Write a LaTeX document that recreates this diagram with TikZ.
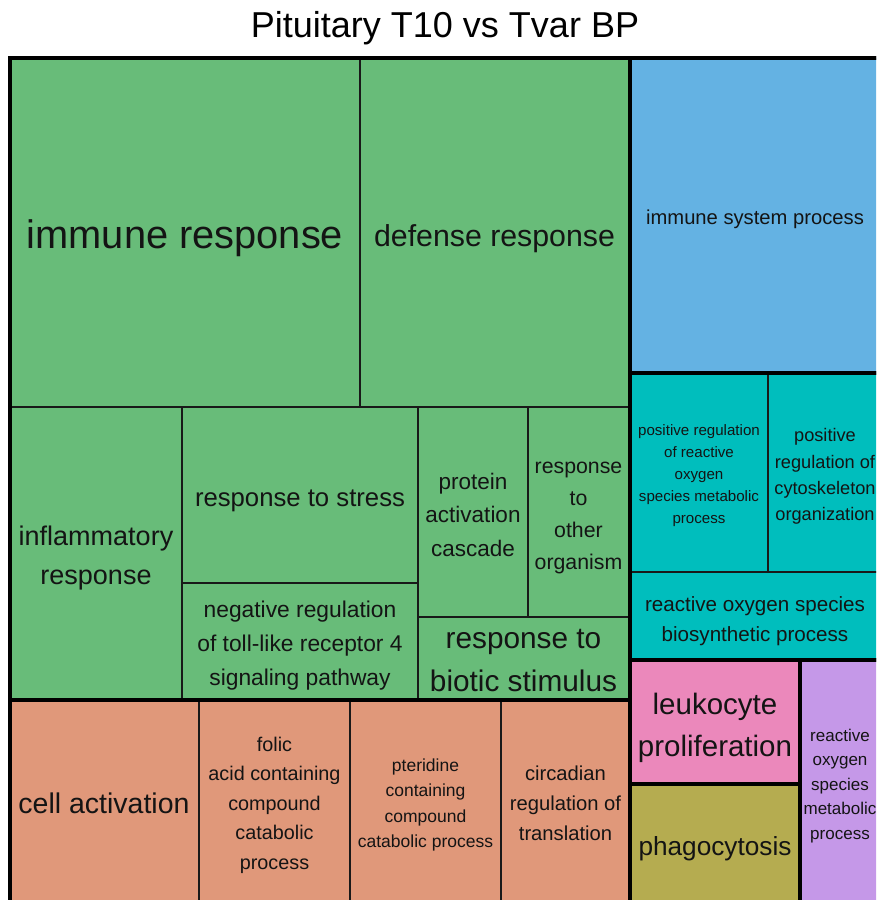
\documentclass[tikz,border=0pt]{standalone}
\usepackage{fontspec}
\setmainfont{Liberation Sans}
\definecolor{cgreen}{RGB}{104,188,121}
\definecolor{cblue}{RGB}{100,178,227}
\definecolor{cteal}{RGB}{0,190,189}
\definecolor{csalmon}{RGB}{224,152,122}
\definecolor{cpink}{RGB}{235,136,187}
\definecolor{colive}{RGB}{181,172,80}
\definecolor{cpurple}{RGB}{197,152,232}
\definecolor{txt}{RGB}{20,20,20}
\newcommand{\fsz}[2]{\fontsize{#1}{#2}\selectfont}
\begin{document}
\begin{tikzpicture}[x=1pt,y=-1pt,
  lbl/.style={align=center, inner sep=0pt, text=txt},
  thinline/.style={line width=1.8pt, draw=black!90},
  grpline/.style={line width=4.5pt, draw=black}]
\useasboundingbox (0,0) rectangle (876,900);
\clip (0,0) rectangle (876,900);
\fill[white] (0,0) rectangle (876,900);
% group fills
\fill[cgreen] (10,58) rectangle (630,700);
\fill[cblue] (630,58) rectangle (882,373);
\fill[cteal] (630,373) rectangle (882,660);
\fill[csalmon] (10,700) rectangle (630,908);
\fill[cpink] (630,660) rectangle (800,784);
\fill[colive] (630,784) rectangle (800,908);
\fill[cpurple] (800,660) rectangle (882,908);
% thin lines
\draw[thinline] (10,407) -- (630,407);
\draw[thinline] (360,58) -- (360,407);
\draw[thinline] (182,407) -- (182,700);
\draw[thinline] (418,407) -- (418,700);
\draw[thinline] (182,583) -- (418,583);
\draw[thinline] (528,407) -- (528,617);
\draw[thinline] (418,617) -- (630,617);
\draw[thinline] (768,373) -- (768,572);
\draw[thinline] (630,572) -- (882,572);
\draw[thinline] (199,700) -- (199,908);
\draw[thinline] (350,700) -- (350,908);
\draw[thinline] (501,700) -- (501,908);
% group borders
\draw[grpline] (10,58) rectangle (630,700);
\draw[grpline] (630,58) rectangle (882,373);
\draw[grpline] (630,373) rectangle (882,660);
\draw[grpline] (10,700) rectangle (630,908);
\draw[grpline] (630,660) rectangle (800,784);
\draw[grpline] (630,784) rectangle (800,908);
\draw[grpline] (800,660) rectangle (882,908);
\draw[grpline] (10,58) rectangle (882,908);
% labels
\node[lbl, text=black, font={\fsz{36}{43}}] (title) at (445,28) {Pituitary T10 vs Tvar BP};
\node[lbl, font={\fsz{39.8}{48}}] (n1) at (185,238) {immune response};
\node[lbl, font={\fsz{30.3}{40}}] (n2) at (494.5,239) {defense response};
\node[lbl, font={\fsz{20.2}{28}}] (n3) at (755,219) {immune system process};
\node[lbl, font={\fsz{27}{39}}] (n4) at (96,558) {inflammatory\\response};
\node[lbl, font={\fsz{25.7}{36}}] (n5) at (300,501) {response to stress};
\node[lbl, font={\fsz{22.8}{34}}] (n6) at (300,646) {negative regulation\\of toll-like receptor 4\\signaling pathway};
\node[lbl, font={\fsz{22.5}{33.5}}] (n7) at (473,514.5) {protein\\activation\\cascade};
\node[lbl, font={\fsz{21.3}{32}}] (n8) at (578.5,517.5) {response\\to\\other\\organism};
\node[lbl, font={\fsz{29.8}{43}}] (n9) at (523.5,661) {response to\\biotic stimulus};
\node[lbl, font={\fsz{15.1}{22}}] (n10) at (699,476) {positive regulation\\of reactive\\oxygen\\species metabolic\\process};
\node[lbl, font={\fsz{18.2}{26.3}}] (n11) at (825,476.5) {positive\\regulation of\\cytoskeleton\\organization};
\node[lbl, font={\fsz{20.6}{30}}] (n12) at (755,621) {reactive oxygen species\\biosynthetic process};
\node[lbl, font={\fsz{28.5}{40}}] (n13) at (104,803.5) {cell activation};
\node[lbl, font={\fsz{19.8}{29.5}}] (n14) at (274.5,805) {folic\\acid containing\\compound\\catabolic\\process};
\node[lbl, font={\fsz{17.5}{25.3}}] (n15) at (425.5,805) {pteridine\\containing\\compound\\catabolic process};
\node[lbl, font={\fsz{20.2}{30}}] (n16) at (565.5,803.5) {circadian\\regulation of\\translation};
\node[lbl, font={\fsz{29.5}{42}}] (n17) at (715,728) {leukocyte\\proliferation};
\node[lbl, font={\fsz{26.2}{36}}] (n18) at (715,849) {phagocytosis};
\node[lbl, font={\fsz{17}{24.5}}] (n19) at (840,786) {reactive\\oxygen\\species\\metabolic\\process};
\end{tikzpicture}
\end{document}
